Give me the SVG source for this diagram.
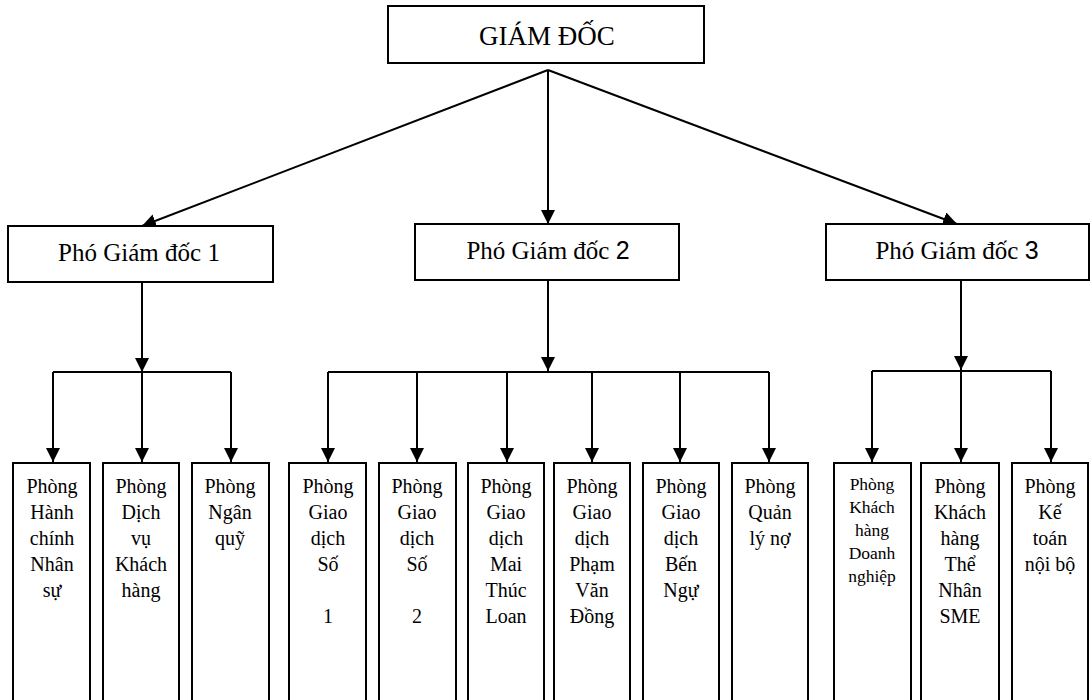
<svg xmlns="http://www.w3.org/2000/svg" width="1092" height="700" viewBox="0 0 1092 700">
<style>
.box{fill:#fff;stroke:#000;stroke-width:2}
.t{font-family:'Liberation Serif','Tinos','Times New Roman','DejaVu Serif',serif;fill:#000;text-anchor:middle}
.big{font-size:27px}
.mid{font-size:25px}
.sm{font-size:20px}
.xs{font-size:17.5px}
.ln{fill:none;stroke:#000;stroke-width:2}
.d{font-family:'Liberation Sans',Arial,sans-serif}
</style>
<defs>
<marker id="ah" viewBox="0 0 14 14" refX="14" refY="7" markerWidth="14" markerHeight="14" markerUnits="userSpaceOnUse" orient="auto">
<path d="M0,0 L14,7 L0,14 Z" fill="#000"/>
</marker>
</defs>
<rect width="1092" height="700" fill="#fff"/>
<g id="connectors">
<path class="ln" d="M548,70 L142,226" marker-end="url(#ah)"/>
<path class="ln" d="M548,70 L548,224" marker-end="url(#ah)"/>
<path class="ln" d="M548,70 L957,224" marker-end="url(#ah)"/>
<path class="ln" d="M142,282 L142,372" marker-end="url(#ah)"/>
<path class="ln" d="M53,372 L231,372"/>
<path class="ln" d="M53,372 L53,462" marker-end="url(#ah)"/>
<path class="ln" d="M142,372 L142,462" marker-end="url(#ah)"/>
<path class="ln" d="M231,372 L231,462" marker-end="url(#ah)"/>
<path class="ln" d="M548,280 L548,371" marker-end="url(#ah)"/>
<path class="ln" d="M328,372 L769,372"/>
<path class="ln" d="M328,372 L328,462" marker-end="url(#ah)"/>
<path class="ln" d="M417,372 L417,462" marker-end="url(#ah)"/>
<path class="ln" d="M507,372 L507,462" marker-end="url(#ah)"/>
<path class="ln" d="M592,372 L592,462" marker-end="url(#ah)"/>
<path class="ln" d="M680,372 L680,462" marker-end="url(#ah)"/>
<path class="ln" d="M769,372 L769,462" marker-end="url(#ah)"/>
<path class="ln" d="M961,280 L961,370" marker-end="url(#ah)"/>
<path class="ln" d="M872,371 L1051,371"/>
<path class="ln" d="M872,371 L872,462" marker-end="url(#ah)"/>
<path class="ln" d="M961,371 L961,462" marker-end="url(#ah)"/>
<path class="ln" d="M1051,371 L1051,462" marker-end="url(#ah)"/>
</g>
<g id="giamdoc">
<rect class="box" x="388" y="6" width="316" height="57"/>
<text class="t big" x="547" y="45">GIÁM ĐỐC</text>
</g>
<g id="pgd1">
<rect class="box" x="8" y="226" width="265" height="56"/>
<text class="t mid" x="139" y="261">Phó Giám đốc 1</text>
</g>
<g id="pgd2">
<rect class="box" x="415" y="224" width="264" height="56"/>
<text class="t mid" x="548" y="259">Phó Giám đốc <tspan class="d">2</tspan></text>
</g>
<g id="pgd3">
<rect class="box" x="826" y="224" width="263" height="56"/>
<text class="t mid" x="957" y="259">Phó Giám đốc <tspan class="d">3</tspan></text>
</g>
<g id="hcns">
<rect class="box" x="13" y="463" width="77" height="245"/>
<text class="t sm" x="52"><tspan x="52" y="493">Phòng</tspan><tspan x="52" y="519">Hành</tspan><tspan x="52" y="545">chính</tspan><tspan x="52" y="571">Nhân</tspan><tspan x="52" y="597">sự</tspan></text>
</g>
<g id="dvkh">
<rect class="box" x="103" y="463" width="76" height="245"/>
<text class="t sm" x="141"><tspan x="141" y="493">Phòng</tspan><tspan x="141" y="519">Dịch</tspan><tspan x="141" y="545">vụ</tspan><tspan x="141" y="571">Khách</tspan><tspan x="141" y="597">hàng</tspan></text>
</g>
<g id="nganquy">
<rect class="box" x="192" y="463" width="77" height="245"/>
<text class="t sm" x="230"><tspan x="230" y="493">Phòng</tspan><tspan x="230" y="519">Ngân</tspan><tspan x="230" y="545">quỹ</tspan></text>
</g>
<g id="gd1">
<rect class="box" x="289" y="463" width="77" height="245"/>
<text class="t sm" x="328"><tspan x="328" y="493">Phòng</tspan><tspan x="328" y="519">Giao</tspan><tspan x="328" y="545">dịch</tspan><tspan x="328" y="571">Số</tspan><tspan x="328" y="623">1</tspan></text>
</g>
<g id="gd2">
<rect class="box" x="379" y="463" width="77" height="245"/>
<text class="t sm" x="417"><tspan x="417" y="493">Phòng</tspan><tspan x="417" y="519">Giao</tspan><tspan x="417" y="545">dịch</tspan><tspan x="417" y="571">Số</tspan><tspan x="417" y="623">2</tspan></text>
</g>
<g id="gdmtl">
<rect class="box" x="468" y="463" width="76" height="245"/>
<text class="t sm" x="506"><tspan x="506" y="493">Phòng</tspan><tspan x="506" y="519">Giao</tspan><tspan x="506" y="545">dịch</tspan><tspan x="506" y="571">Mai</tspan><tspan x="506" y="597">Thúc</tspan><tspan x="506" y="623">Loan</tspan></text>
</g>
<g id="gdpvd">
<rect class="box" x="554" y="463" width="76" height="245"/>
<text class="t sm" x="592"><tspan x="592" y="493">Phòng</tspan><tspan x="592" y="519">Giao</tspan><tspan x="592" y="545">dịch</tspan><tspan x="592" y="571">Phạm</tspan><tspan x="592" y="597">Văn</tspan><tspan x="592" y="623">Đồng</tspan></text>
</g>
<g id="gdbn">
<rect class="box" x="643" y="463" width="76" height="245"/>
<text class="t sm" x="681"><tspan x="681" y="493">Phòng</tspan><tspan x="681" y="519">Giao</tspan><tspan x="681" y="545">dịch</tspan><tspan x="681" y="571">Bến</tspan><tspan x="681" y="597">Ngự</tspan></text>
</g>
<g id="qln">
<rect class="box" x="732" y="463" width="76" height="245"/>
<text class="t sm" x="770"><tspan x="770" y="493">Phòng</tspan><tspan x="770" y="519">Quản</tspan><tspan x="770" y="545">lý nợ</tspan></text>
</g>
<g id="khdn">
<rect class="box" x="834" y="463" width="77" height="245"/>
<text class="t xs" x="872"><tspan x="872" y="490">Phòng</tspan><tspan x="872" y="513">Khách</tspan><tspan x="872" y="536">hàng</tspan><tspan x="872" y="559">Doanh</tspan><tspan x="872" y="582">nghiệp</tspan></text>
</g>
<g id="khtn">
<rect class="box" x="921" y="463" width="78" height="245"/>
<text class="t sm" x="960"><tspan x="960" y="493">Phòng</tspan><tspan x="960" y="519">Khách</tspan><tspan x="960" y="545">hàng</tspan><tspan x="960" y="571">Thể</tspan><tspan x="960" y="597">Nhân</tspan><tspan x="960" y="623">SME</tspan></text>
</g>
<g id="ktnb">
<rect class="box" x="1012" y="463" width="76" height="245"/>
<text class="t sm" x="1050"><tspan x="1050" y="493">Phòng</tspan><tspan x="1050" y="519">Kế</tspan><tspan x="1050" y="545">toán</tspan><tspan x="1050" y="571">nội bộ</tspan></text>
</g>
</svg>
